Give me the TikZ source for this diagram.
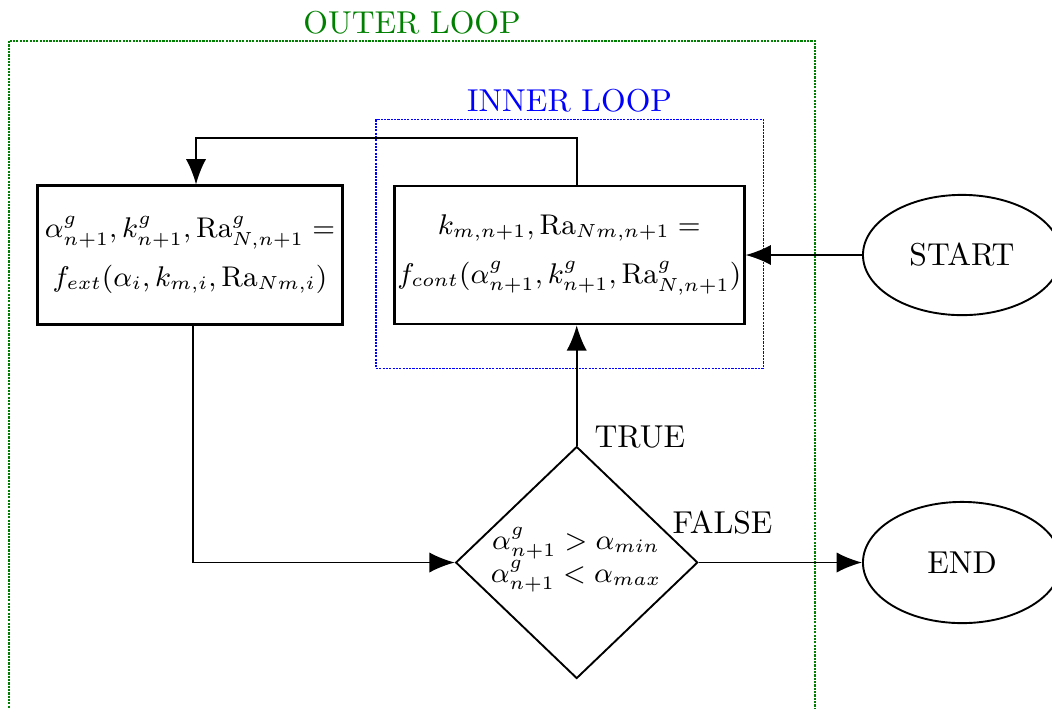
\documentclass[tikz,border=0pt]{standalone}
\usetikzlibrary{shapes.geometric,arrows.meta,calc}
\begin{document}
\begin{tikzpicture}[x=0.316pt,y=-0.316pt,
  box/.style={draw,line width=0.8pt,minimum width=96.5pt,minimum height=43.8pt,align=center,inner sep=1pt,font=\small},
  term/.style={draw,ellipse,line width=0.6pt,minimum width=62.6pt,minimum height=38pt,inner sep=0pt},
  cond/.style={draw,diamond,line width=0.6pt,minimum width=76.5pt,minimum height=73.3pt,inner sep=0pt},
  arr/.style={line width=0.6pt,-{Latex[length=8pt,width=6.4pt]}},
  outerloop/.style={draw=green!50!black,dash pattern=on 0.7pt off 0.35pt,line width=0.5pt},
  innerloop/.style={draw=blue,dash pattern=on 0.7pt off 0.35pt,line width=0.5pt},
  outerlabel/.style={text=green!50!black,anchor=base,inner sep=0pt},
  innerlabel/.style={text=blue,anchor=base,inner sep=0pt},
  lbl/.style={anchor=base west,inner sep=0pt}
]
\useasboundingbox (0,0) rectangle (1052,708);

% loop frames
\draw[outerloop] (9,41) rectangle (815,740);
\node[outerlabel] (outerlbl) at (412,33) {OUTER LOOP};
\draw[innerloop] (375.7,119.3) rectangle (763.3,368.3);
\node[innerlabel] (innerlbl) at (569.5,111.7) {INNER LOOP};

% nodes
\node[box] (ext) at (190,255)
  {$\alpha^g_{n+1}, k^g_{n+1}, \mathrm{Ra}^g_{N,n+1} =$\\[4.5pt]
   $f_{ext}(\alpha_i, k_{m,i}, \mathrm{Ra}_{Nm,i})$};
\node[box,minimum width=109.7pt,minimum height=43.6pt] (cont) at (569.3,255)
  {$k_{m,n+1}, \mathrm{Ra}_{Nm,n+1} =$\\[4.5pt]
   $f_{cont}(\alpha^g_{n+1}, k^g_{n+1}, \mathrm{Ra}^g_{N,n+1})$};
\node[cond] (dia) at (576.7,562.5) {};
\node[align=center,inner sep=0pt,font=\fontsize{8.6}{10.3}\selectfont] (diatext) at (576,560)
  {$\alpha^g_{n+1} > \alpha_{min}$\\ $\alpha^g_{n+1} < \alpha_{max}$};
\node[term] (start) at (962,255) {START};
\node[term,minimum height=38.3pt] (end) at (962,562.5) {END};

% labels
\node[lbl] (truelbl) at (594,447) {TRUE};
\node[lbl] (falselbl) at (672,533) {FALSE};

% connectors
\coordinate (fb) at (576.7,138.3);
\draw[arr] (dia.north |- cont.north) -- (fb) -| ([xshift=1.9pt]ext.north);
\draw[arr] ([xshift=0.95pt]ext.south) |- (dia.west);
\draw[arr] (dia.north) -- (dia.north |- cont.south);
\draw[arr] (dia.east) -- (end.west);
\draw[arr] (start.west) -- (start.west -| cont.east);
\end{tikzpicture}
\end{document}
